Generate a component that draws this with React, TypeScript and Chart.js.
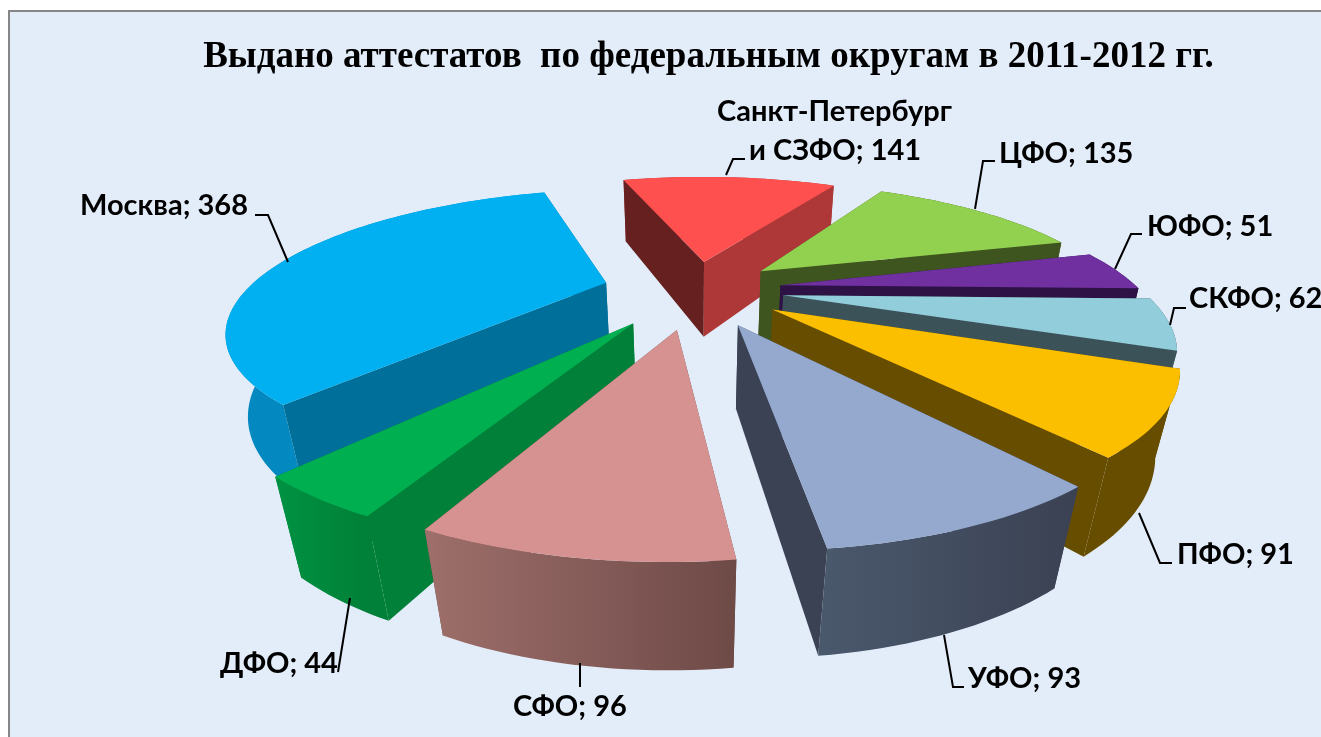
import React, { useEffect, useRef } from "react";
import { Chart, registerables } from "chart.js";

Chart.register(...registerables);

const chartTitle = "Выдано аттестатов  по федеральным округам в 2011-2012 гг.";
const categories = ["Москва", "Санкт-Петербург и СЗФО", "ЦФО", "ЮФО", "СКФО", "ПФО", "УФО", "СФО", "ДФО"];
const values = [368, 141, 135, 51, 62, 91, 93, 96, 44];
const topColors = ["#00B0F0", "#FF5050", "#92D050", "#7030A0", "#92CDDC", "#FBBF00", "#95A9CF", "#D69290", "#00B050"];
const wallStart = ["#006F99", "#662020", "#3E5520", "#2E1245", "#3C5259", "#664D00", "#3B4254", "#6E4A47", "#008038"];
const wallEnd = ["#006F99", "#AE3838", "#3E5520", "#2E1245", "#3C5259", "#664D00", "#3B4254", "#6E4A47", "#008038"];
const rimFrom = ["#0388C0", "#AE3838", "#3E5520", "#2E1245", "#3C5259", "#664D00", "#3A4152", "#6E4A47", "#008038"];
const rimTo = ["#1AA5E0", "#AE3838", "#3E5520", "#2E1245", "#3C5259", "#664D00", "#4A586C", "#9E6F6B", "#009242"];
const explode = [0.26, 0.23, 0.24, 0.24, 0.245, 0.255, 0.285, 0.3, 0.3];

const view = { cx: 696, cy: 289, s: 358, t: 126, k: 0.31, depth: 82, delta: 0.045 };

const labelFont = 'bold 29px Lato, "Open Sans", sans-serif';
const labelLayout = [
  { lines: [{ x: 80, y: 215 }], leader: [[255, 215], [268, 215], [288, 262]] },
  { lines: [{ x: 717, y: 121 }, { x: 749, y: 160 }], leader: [[745, 159], [733, 159], [726, 175]] },
  { lines: [{ x: 999, y: 163 }], leader: [[995, 161], [983, 161], [975, 209]] },
  { lines: [{ x: 1147, y: 236 }], leader: [[1142, 234], [1131, 234], [1115, 269]] },
  { lines: [{ x: 1189, y: 308 }], leader: [[1186, 308], [1174, 308], [1170, 325]] },
  { lines: [{ x: 1177, y: 564 }], leader: [[1139, 513], [1160, 563], [1172, 563]] },
  { lines: [{ x: 968, y: 688 }], leader: [[944, 635], [953, 687], [964, 687]] },
  { lines: [{ x: 513, y: 716 }], leader: [[580, 663], [580, 687]] },
  { lines: [{ x: 220, y: 673 }], leader: [[350, 598], [338, 672]] },
];

function project(x: number, y: number, z: number) {
  const w = 1 + view.k * y + view.delta * z;
  return { x: view.cx + (view.s * x) / w, y: view.cy - (view.t * y - view.depth * z) / w };
}

type Pt = { x: number; y: number };

function poly(ctx: CanvasRenderingContext2D, pts: Pt[], color: any) {
  ctx.beginPath();
  pts.forEach((p, i) => (i ? ctx.lineTo(p.x, p.y) : ctx.moveTo(p.x, p.y)));
  ctx.closePath();
  ctx.fillStyle = color;
  ctx.fill();
}

const pie3d = {
  id: "pie3d",
  beforeDraw(chart: any) {
    const ctx = chart.ctx as CanvasRenderingContext2D;
    ctx.save();
    ctx.fillStyle = "#ffffff";
    ctx.fillRect(0, 0, chart.width, chart.height);
    ctx.fillStyle = "#E3EDFA";
    ctx.fillRect(9, 11, chart.width, chart.height);
    ctx.strokeStyle = "#868686";
    ctx.lineWidth = 2;
    ctx.beginPath();
    ctx.moveTo(9, chart.height);
    ctx.lineTo(9, 11);
    ctx.lineTo(chart.width, 11);
    ctx.stroke();
    ctx.restore();
  },
  beforeDatasetsDraw(chart: any) {
    const ctx = chart.ctx as CanvasRenderingContext2D;
    const arcs = chart.getDatasetMeta(0).data;
    const slices = arcs.map((el: any, i: number) => {
      const { startAngle, endAngle } = el.getProps(["startAngle", "endAngle"], true);
      const mid = (startAngle + endAngle) / 2;
      const e = explode[i];
      const ox = Math.cos(mid) * e;
      const oy = -Math.sin(mid) * e;
      const n = Math.max(2, Math.ceil((endAngle - startAngle) / 0.025));
      const rim: Pt[] = [];
      for (let j = 0; j <= n; j++) {
        const a = startAngle + ((endAngle - startAngle) * j) / n;
        rim.push({ x: ox + Math.cos(a), y: oy - Math.sin(a) });
      }
      return { i, ox, oy, rim, sortY: oy - Math.sin(mid) * 0.6 };
    });
    slices.sort((a: any, b: any) => b.sortY - a.sortY);
    ctx.save();
    for (const s of slices) {
      const apex = { x: s.ox, y: s.oy };
      const first = s.rim[0];
      const last = s.rim[s.rim.length - 1];
      const top: Pt[] = s.rim.map((p: Pt) => project(p.x, p.y, 0));
      const bottom: Pt[] = s.rim.map((p: Pt) => project(p.x, p.y, 1));
      const x0 = top[0].x;
      const far = top.reduce((m, p) => (Math.abs(p.x - x0) > Math.abs(m - x0) ? p.x : m), x0);
      const grad = ctx.createLinearGradient(x0, 0, far === x0 ? x0 + 1 : far, 0);
      grad.addColorStop(0, rimFrom[s.i]);
      grad.addColorStop(1, rimTo[s.i]);
      const walls = [
        {
          y: (apex.y + first.y) / 2,
          pts: [project(apex.x, apex.y, 0), top[0], bottom[0], project(apex.x, apex.y, 1)],
          color: wallStart[s.i] as any,
        },
        {
          y: (apex.y + last.y) / 2,
          pts: [project(apex.x, apex.y, 0), top[top.length - 1], bottom[top.length - 1], project(apex.x, apex.y, 1)],
          color: wallEnd[s.i] as any,
        },
        {
          y: (first.y + last.y) / 2,
          pts: [...top, ...bottom.slice().reverse()],
          color: grad as any,
        },
      ];
      walls.sort((a, b) => b.y - a.y);
      walls.forEach((q) => poly(ctx, q.pts, q.color));
      poly(ctx, [apex, ...s.rim].map((p: Pt) => project(p.x, p.y, 0)), arcs[s.i].options.backgroundColor);
    }
    ctx.restore();
    return false;
  },
  afterDraw(chart: any) {
    const ctx = chart.ctx as CanvasRenderingContext2D;
    ctx.save();
    ctx.font = labelFont;
    ctx.fillStyle = "#000000";
    ctx.strokeStyle = "#000000";
    ctx.lineWidth = 2;
    ctx.textBaseline = "alphabetic";
    labelLayout.forEach((l, i) => {
      ctx.beginPath();
      l.leader.forEach((p, j) => (j ? ctx.lineTo(p[0], p[1]) : ctx.moveTo(p[0], p[1])));
      ctx.stroke();
      const text = `${categories[i]}; ${values[i]}`;
      const parts = l.lines.length > 1 ? ["Санкт-Петербург", `и СЗФО; ${values[i]}`] : [text];
      parts.forEach((t, j) => ctx.fillText(t, l.lines[j].x, l.lines[j].y));
    });
    ctx.restore();
  },
};

export default function App() {
  const ref = useRef<HTMLCanvasElement>(null);
  useEffect(() => {
    document.body.style.margin = "0";
    const chart = new Chart(ref.current!, {
      type: "pie",
      data: { labels: categories, datasets: [{ data: values, backgroundColor: topColors, borderWidth: 0 }] },
      options: {
        responsive: false,
        animation: false,
        rotation: -140.05,
        layout: { padding: { left: 96 } },
        plugins: {
          legend: { display: false },
          tooltip: { enabled: false },
          title: {
            display: true,
            text: chartTitle,
            fullSize: false,
            color: "#000000",
            font: { family: '"Liberation Serif", serif', size: 37, weight: "bold" },
            padding: { top: 35, bottom: 10 },
          },
        },
      },
      plugins: [pie3d],
    } as any);
    return () => chart.destroy();
  }, []);
  return <canvas ref={ref} width={1321} height={737} style={{ display: "block" }} />;
}
